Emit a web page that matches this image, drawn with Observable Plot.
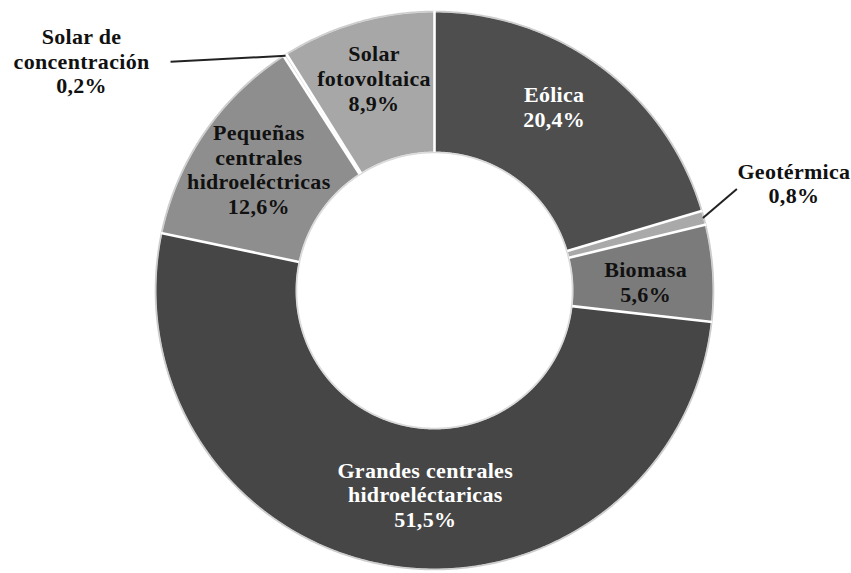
<!DOCTYPE html>
<html>
<head>
<meta charset="utf-8">
<script src="https://cdn.jsdelivr.net/npm/d3@7"></script>
<script src="https://cdn.jsdelivr.net/npm/@observablehq/plot@0.6"></script>
<style>
  html, body { margin: 0; padding: 0; background: #ffffff; }
  #chart svg { display: block; }
  #chart svg text { letter-spacing: 0.3px; }
</style>
</head>
<body>
<div id="chart"></div>
<script>
// Renewable capacity shares, clockwise from 12 o'clock
const categories = [
  "Eólica",
  "Geotérmica",
  "Biomasa",
  "Grandes centrales hidroeléctaricas",
  "Pequeñas centrales hidroeléctricas",
  "Solar de concentración",
  "Solar fotovoltaica"
];
const shares = [20.4, 0.8, 5.6, 51.5, 12.6, 0.2, 8.9];
const labelLines = [
  ["Eólica"],
  ["Geotérmica"],
  ["Biomasa"],
  ["Grandes centrales", "hidroeléctaricas"],
  ["Pequeñas", "centrales", "hidroeléctricas"],
  ["Solar de", "concentración"],
  ["Solar", "fotovoltaica"]
];

// Styling
const sliceColors = ["#4e4e4e", "#a9a9a9", "#7b7b7b", "#464646", "#8e8e8e", "#dadada", "#a7a7a7"];
const labelInk = ["#ffffff", "#111111", "#111111", "#ffffff", "#111111", "#111111", "#111111"];

// Layout (pixels)
const W = 851, H = 573;
const CX = 434, CY = 290, R = 278;   // donut centre and outer radius
const HOLE = 0.5;                    // inner radius as a fraction of the outer one
const LABEL_RADIUS = 0.75;
// label nudges for in-ring labels, in pixels [dx, dy]; null = callout label
const labelNudge = [[-5, -17], null, [3, 4], [24, -2], [-4, -3], null, [-3, -12]];
// callouts: leader end offset from the slice edge, then label offset from leader end
const callout = {
  1: { leader: [34, -29], label: [57, -6] },
  5: { leader: [-115, 6], label: [-89, -1] }
};

const fmtPct = v => d3.format(".1f")(v).replace(".", ",") + "%";
const TAU = 2 * Math.PI;
const px = (dx) => dx / R;      // pixel offset -> data units (x)
const py = (dy) => -dy / R;     // pixel offset -> data units (y, up)
const polar = (rho, a) => [rho * Math.sin(a), rho * Math.cos(a)];

// cumulative angles
const total = d3.sum(shares);
const cum = [0, ...d3.cumsum(shares)].map(v => v / total * TAU);

// slice polygons
const slicePts = [];
categories.forEach((name, i) => {
  const a0 = cum[i], a1 = cum[i + 1];
  const n = Math.max(2, Math.ceil((a1 - a0) / 0.004));
  for (let k = 0; k <= n; k++) {
    const [x, y] = polar(1, a0 + (a1 - a0) * k / n);
    slicePts.push({ name, x, y });
  }
  for (let k = n; k >= 0; k--) {
    const [x, y] = polar(HOLE, a0 + (a1 - a0) * k / n);
    slicePts.push({ name, x, y });
  }
});

// rim circles
const ring = (rho, tag) => d3.range(0, 721).map(k => {
  const [x, y] = polar(rho, k / 720 * TAU);
  return { tag, x, y };
});
const rims = [...ring(1 + 1 / R, "outer"), ...ring(HOLE - 1 / R, "inner")];

// separators between slices
const seps = cum.slice(0, -1).map(a => {
  const [x1, y1] = polar(HOLE - 0.5 / R, a);
  const [x2, y2] = polar(1 + 1.5 / R, a);
  return { x1, y1, x2, y2 };
});

// labels and leader lines
const labels = [];
const leaders = [];
categories.forEach((name, i) => {
  const mid = (cum[i] + cum[i + 1]) / 2;
  const text = [...labelLines[i], fmtPct(shares[i])].join("\n");
  if (labelNudge[i]) {
    const [x, y] = polar(LABEL_RADIUS, mid);
    labels.push({ name, text, ink: labelInk[i], x: x + px(labelNudge[i][0]), y: y + py(labelNudge[i][1]) });
  } else {
    const c = callout[i];
    const [sx, sy] = polar(1, mid);
    const ex = sx + px(c.leader[0]), ey = sy + py(c.leader[1]);
    leaders.push({ x1: sx, y1: sy, x2: ex, y2: ey });
    labels.push({ name, text, ink: labelInk[i], x: ex + px(c.label[0]), y: ey + py(c.label[1]) });
  }
});

const textStyle = {
  x: "x", y: "y", text: "text",
  fontSize: 22, fontWeight: "bold",
  fontFamily: "Liberation Serif",
  lineHeight: 1.12, textAnchor: "middle"
};

const chart = Plot.plot({
  width: W, height: H,
  margin: 0,
  x: { domain: [-CX / R, (W - CX) / R], axis: null },
  y: { domain: [-(H - CY) / R, CY / R], axis: null },
  color: { domain: categories, range: sliceColors },
  style: { background: "#ffffff", fontFamily: "Liberation Serif" },
  marks: [
    Plot.line(slicePts, { x: "x", y: "y", z: "name", fill: "name", stroke: "name", strokeWidth: 0.5 }),
    Plot.line(rims, { x: "x", y: "y", z: "tag", stroke: d => d.tag === "outer" ? "#cdcdcd" : "#dadada", strokeWidth: 1.6 }),
    Plot.link(seps, { x1: "x1", y1: "y1", x2: "x2", y2: "y2", stroke: "#ffffff", strokeWidth: 2.6 }),
    Plot.link(leaders, { x1: "x1", y1: "y1", x2: "x2", y2: "y2", stroke: "#222222", strokeWidth: 2 }),
    Plot.text(labels.filter(d => d.ink === "#ffffff"), { ...textStyle, fill: "#ffffff" }),
    Plot.text(labels.filter(d => d.ink !== "#ffffff"), { ...textStyle, fill: "#111111" })
  ]
});

document.getElementById("chart").appendChild(chart);
</script>
</body>
</html>
